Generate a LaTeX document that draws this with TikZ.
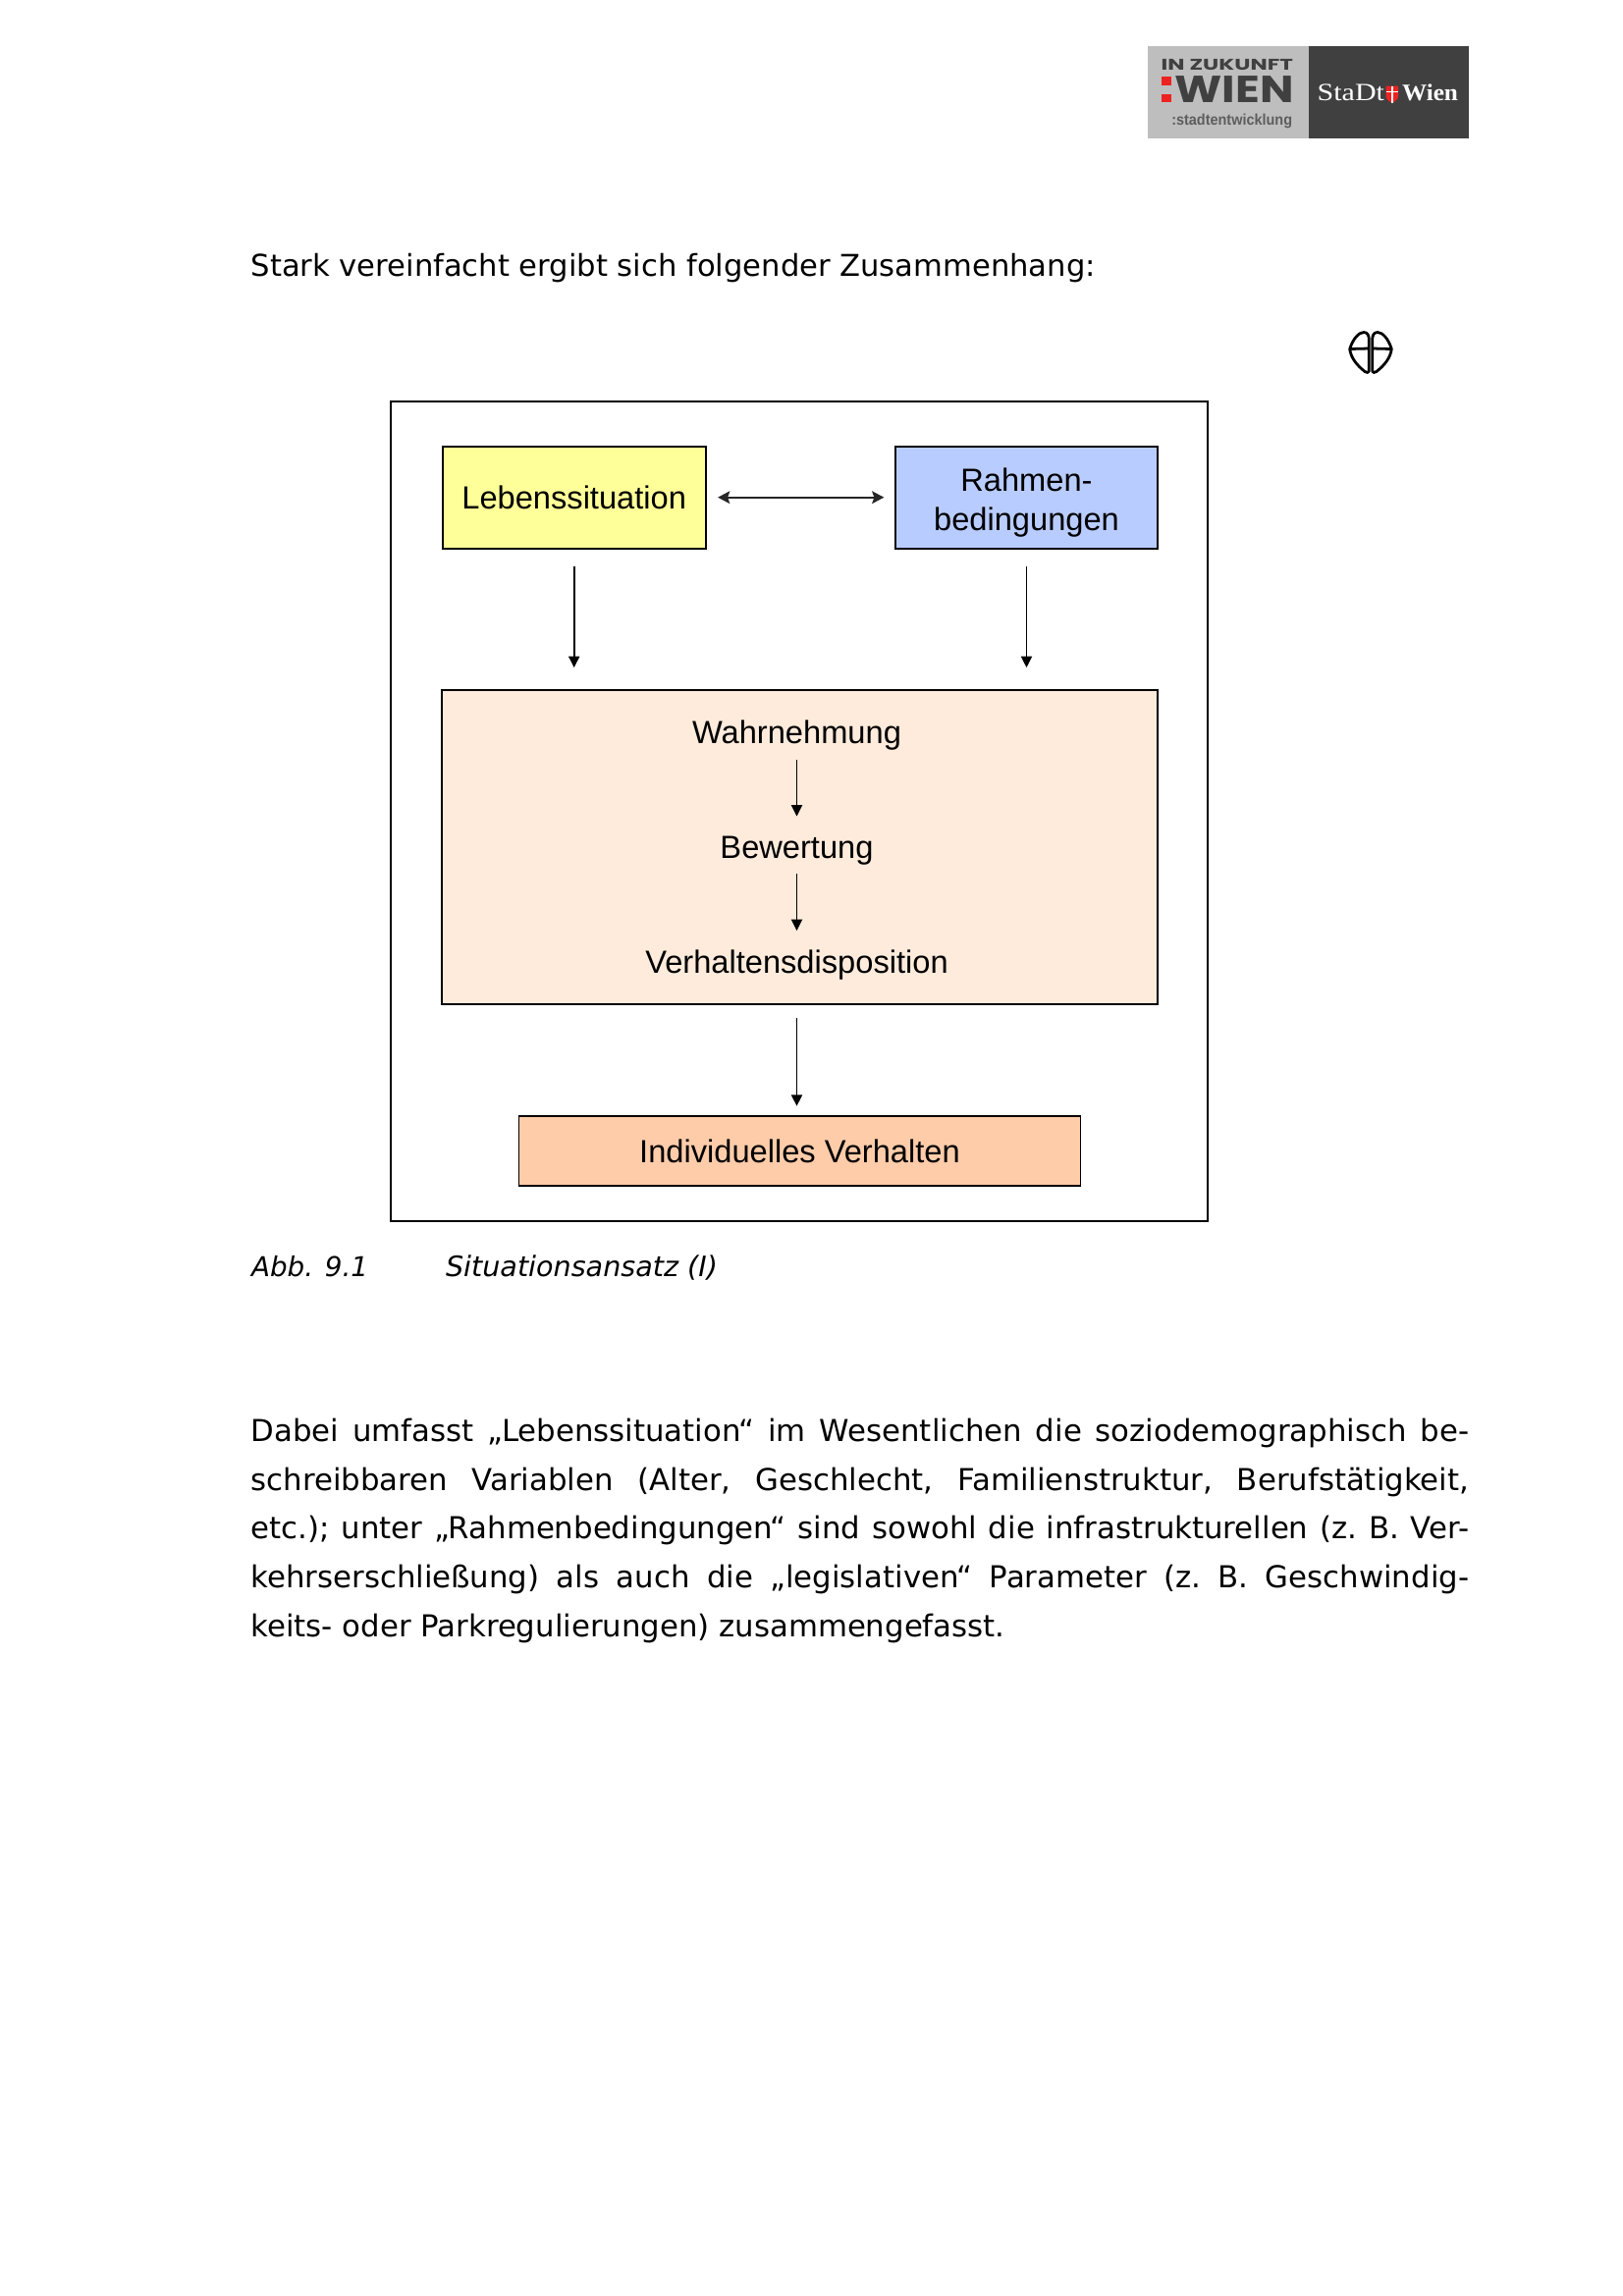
\documentclass[tikz,border=0pt]{standalone}
\usepackage{fontspec}
\usepackage{graphicx}
\usetikzlibrary{arrows.meta}
\setmainfont{Liberation Sans}
\newfontfamily\bodyfont{DejaVu Sans}
\newfontfamily\logoblock{Poppins}
\newfontfamily\logoserif{Liberation Serif}
\def\px{0.36pt}
\definecolor{cyellow}{HTML}{FFFF99}
\definecolor{cblue}{HTML}{B9CCFF}
\definecolor{cpeach}{HTML}{FEEBDC}
\definecolor{corange}{HTML}{FFCCAA}
\definecolor{logolight}{HTML}{BEBEBE}
\definecolor{logodark}{HTML}{404040}
\definecolor{logored}{HTML}{EE2222}
\tikzset{
  box/.style={draw=black,line width=0.7pt,inner sep=0pt,outer sep=0pt,align=center,
    font=\fontsize{11.75}{14.15}\selectfont},
  lbl/.style={anchor=base,inner sep=0pt,outer sep=0pt,font=\fontsize{11.75}{14.15}\selectfont},
  arr/.style={line width=0.6pt,-{Triangle[length=4.1pt,width=4pt]}},
  darr/.style={line width=0.6pt,{Stealth[length=4.4pt,width=4.6pt,inset=0.8pt]}-{Stealth[length=4.4pt,width=4.6pt,inset=0.8pt]},color=black!85},
  body/.style={anchor=base west,inner sep=0pt,outer sep=0pt,font=\bodyfont\frenchspacing\fontsize{11.08}{18}\selectfont},
  captext/.style={anchor=base west,inner sep=0pt,outer sep=0pt,font=\bodyfont\itshape\frenchspacing\fontsize{10.3}{12}\selectfont},
  logot/.style={anchor=south west,inner sep=0pt,outer sep=0pt},
  sym/.style={line width=1pt,line join=round,line cap=round},
}
\begin{document}
\begin{tikzpicture}[x=\px,y=-\px]
\useasboundingbox (0,0) rectangle (1653,2339);
% logo
\fill[logolight] (1169,46.7) rectangle (1332.7,140.7);
\fill[logodark] (1332.7,46.7) rectangle (1496,140.7);
\node[logot,text=logodark] (lz) at (1182.7,71.7) {\resizebox{48.3pt}{4pt}{\logoblock\bfseries IN ZUKUNFT}};
\fill[logored] (1182.7,78) rectangle (1192.7,86.7);
\fill[logored] (1182.7,95.7) rectangle (1192.7,104);
\node[logot,text=logodark] (lw) at (1196.7,104.3) {\resizebox{43.6pt}{9.7pt}{\logoblock\bfseries WIEN}};
\node[anchor=base west,inner sep=0pt,outer sep=0pt,text=logodark!85] (ls) at (1193.3,127.3) {\resizebox{44.2pt}{4.1pt}{\bfseries :stadtentwicklung}};
\node[anchor=base west,inner sep=0pt,outer sep=0pt,text=white] (lsd) at (1341.7,102.7) {\resizebox{24.6pt}{6pt}{\logoserif StaDt}};
\node[anchor=base west,inner sep=0pt,outer sep=0pt,text=white] (lwi) at (1428,102.7) {\resizebox{20.5pt}{6pt}{\logoserif\bfseries Wien}};
\fill[logored] (1411.7,87.5) -- (1424,87.5) -- (1424,98) .. controls (1424,102) and (1420,103.5) .. (1417.9,105) .. controls (1415.7,103.5) and (1411.7,102) .. (1411.7,98) -- cycle;
\draw[white,line width=0.5pt] (1417.9,87.5) -- (1417.9,105) (1411.7,93.5) -- (1424,93.5);
% heading
\node[body,font=\bodyfont\fontsize{11.02}{18}\selectfont] (t0) at (255.6,281) {Stark vereinfacht ergibt sich folgender Zusammenhang:};
% symbol
\draw[sym] (1374.7,355.5) .. controls (1378,345) and (1384,338.5) .. (1389,338.5) .. controls (1393,338.5) and (1394.3,342) .. (1394.3,346) -- (1394.3,378) .. controls (1394.3,380) and (1392,380) .. (1390,378.5) .. controls (1382,372) and (1376,365) .. (1374.7,355.5) -- (1394.3,355);
\draw[sym] (1417.3,355.5) .. controls (1414,345) and (1408,338.5) .. (1403,338.5) .. controls (1399,338.5) and (1397.7,342) .. (1397.7,346) -- (1397.7,378) .. controls (1397.7,380) and (1400,380) .. (1402,378.5) .. controls (1410,372) and (1416,365) .. (1417.3,355.5) -- (1397.7,355);
% frame
\node[draw=black,line width=0.8pt,inner sep=0pt,outer sep=0pt,minimum width=832.3*\px,minimum height=835*\px] (frame) at (813.85,826.5) {};
% boxes
\node[box,fill=cyellow,minimum width=268*\px,minimum height=104*\px] (leb) at (584.7,506.7) {Lebenssituation};
\node[box,fill=cblue,minimum width=267.7*\px,minimum height=104*\px] (rah) at (1045.5,506.7) {\rule{0pt}{12.3pt}Rahmen-\\[0.35pt]bedingungen};
\node[box,fill=cpeach,minimum width=729*\px,minimum height=320*\px] (perc) at (814.8,862.7) {};
\node[box,line width=0.55pt,fill=corange,minimum width=571.8*\px,minimum height=71*\px] (ind) at (814.5,1172.5) {Individuelles Verhalten};
% inner labels
\node[lbl] (wahr) at (811.5,757) {Wahrnehmung};
\node[lbl] (bew) at (811.5,874) {Bewertung};
\node[lbl] (disp) at (811.5,991.7) {Verhaltensdisposition};
% connectors
\draw[darr,shorten <=12.4*\px,shorten >=11.3*\px] (leb.east) -- (rah.west);
\draw[arr,shorten <=18.3*\px,shorten >=22.7*\px] (leb.south) -- (leb.south |- perc.north);
\draw[arr,shorten <=18.3*\px,shorten >=22.7*\px] (rah.south) -- (rah.south |- perc.north);
\draw[arr,shorten <=10.5*\px,shorten >=20*\px] (wahr.south) -- (bew.north);
\draw[arr,shorten <=9.5*\px,shorten >=20*\px] (bew.south) -- (disp.north);
\draw[arr,shorten <=14*\px,shorten >=10.3*\px] (perc.south -| wahr.south) -- (ind.north -| wahr.south);
% caption
\node[captext,font=\bodyfont\itshape\fontsize{10}{12}\selectfont] (c1) at (256,1300.7) {Abb. 9.1};
\node[captext] (c2) at (454,1300.7) {Situationsansatz (I)};
% paragraph
\node[body] (p1) at (255.6,1468.2) {\makebox[446.6pt][s]{Dabei umfasst „Lebenssituation“ im Wesentlichen die soziodemographisch be-}};
\node[body] (p2) at (255.6,1518) {\makebox[446.6pt][s]{schreibbaren Variablen (Alter, Geschlecht, Familienstruktur, Berufstätigkeit,}};
\node[body] (p3) at (255.6,1567.7) {\makebox[446.6pt][s]{etc.); unter „Rahmenbedingungen“ sind sowohl die infrastrukturellen (z. B. Ver-}};
\node[body] (p4) at (255.6,1617.4) {\makebox[446.6pt][s]{kehrserschließung) als auch die „legislativen“ Parameter (z. B. Geschwindig-}};
\node[body] (p5) at (255.6,1667.2) {keits- oder Parkregulierungen) zusammengefasst.};
\end{tikzpicture}
\end{document}
